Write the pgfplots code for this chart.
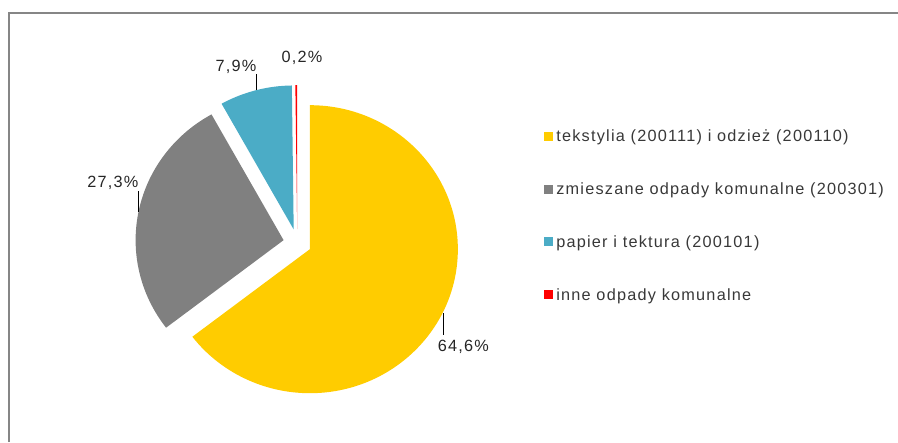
\documentclass[border=0pt]{standalone}
\usepackage{pgfplots}
\pgfplotsset{compat=1.18}
\usepackage{pgfplotstable}
\usepackage{fontspec}
\setmainfont{Liberation Sans}[LetterSpace=7.6]
\definecolor{cyellow}{HTML}{FFCC00}
\definecolor{cgray}{HTML}{808080}
\definecolor{cblue}{HTML}{4BACC6}
\definecolor{cred}{HTML}{FF0000}
\definecolor{cborder}{HTML}{868686}
\definecolor{ctext}{HTML}{262626}
\definecolor{clegend}{HTML}{383838}

\pgfplotstableread{
value
64.6
27.3
7.9
0.2
}\piedata

\newcommand\slice[4]{%
  \fill[#1] (axis cs:297.3,243) ++(#4:10.5pt) -- ++(#2:111pt and 108pt)
    arc[start angle=#2, end angle=#3, x radius=111pt, y radius=108pt] -- cycle;}

\begin{document}
\begin{tikzpicture}
\pgfplotstablegetelem{0}{value}\of\piedata \let\vA\pgfplotsretval
\pgfplotstablegetelem{1}{value}\of\piedata \let\vB\pgfplotsretval
\pgfplotstablegetelem{2}{value}\of\piedata \let\vC\pgfplotsretval
\pgfplotstablegetelem{3}{value}\of\piedata \let\vD\pgfplotsretval
\pgfmathsetmacro\aA{90}
\pgfmathsetmacro\aB{\aA-3.6*\vA}
\pgfmathsetmacro\aC{\aB-3.6*\vB}
\pgfmathsetmacro\aD{\aC-3.6*\vC}
\pgfmathsetmacro\aE{\aD-3.6*\vD}
\pgfmathsetmacro\mA{(\aA+\aB)/2}
\pgfmathsetmacro\mB{(\aB+\aC)/2}
\pgfmathsetmacro\mC{(\aC+\aD)/2}
\pgfmathsetmacro\mD{(\aD+\aE)/2}
\begin{axis}[
  scale only axis, width=673.5pt, height=331.5pt,
  xmin=0, xmax=898, ymin=0, ymax=442, y dir=reverse,
  axis lines=none, clip=false,
]
% frame
\draw[cborder, line width=1.5pt] (axis cs:9,442) -- (axis cs:9,13) -- (axis cs:898,13);
% slices
\slice{cyellow}{\aA}{\aB}{\mA}
\slice{cgray}{\aB}{\aC}{\mB}
\slice{cblue}{\aC}{\aD}{\mC}
\slice{cred}{\aD}{\aE}{\mD}
% leader lines
\draw[black, line width=1.1pt] (axis cs:256.5,74) -- (axis cs:256.5,90);
\draw[black, line width=1.1pt] (axis cs:138.3,191) -- (axis cs:138.3,212);
\draw[black, line width=1.1pt] (axis cs:443.3,313) -- (axis cs:443.3,335);
% data labels
\begin{scope}[every node/.style={font=\fontsize{12.2pt}{14.5pt}\selectfont, text=ctext, inner sep=0pt, anchor=base}]
\node at (axis cs:236,71.5) {7,9\%};
\node at (axis cs:302,62.5) {0,2\%};
\node at (axis cs:112.8,187.5) {27,3\%};
\node at (axis cs:463.3,351.5) {64,6\%};
\end{scope}
% legend
\fill[cyellow] (axis cs:544,131.7) rectangle (axis cs:553.3,140.7);
\fill[cgray] (axis cs:544,184.5) rectangle (axis cs:553.3,193.5);
\fill[cblue] (axis cs:544,237.2) rectangle (axis cs:553.3,246.2);
\fill[cred] (axis cs:544,289.9) rectangle (axis cs:553.3,298.9);
\begin{scope}[every node/.style={font=\fontsize{12.2pt}{14.5pt}\selectfont, text=clegend, inner sep=0pt, anchor=base west}]
\node at (axis cs:556,141.7) {tekstylia (200111) i odzież (200110)};
\node at (axis cs:556,194.7) {zmieszane odpady komunalne (200301)};
\node at (axis cs:556,247.5) {papier i tektura (200101)};
\node at (axis cs:556,300.2) {inne odpady komunalne};
\end{scope}
\end{axis}
\pgfresetboundingbox
\useasboundingbox (0,0) rectangle (673.5pt,331.5pt);
\end{tikzpicture}
\end{document}
